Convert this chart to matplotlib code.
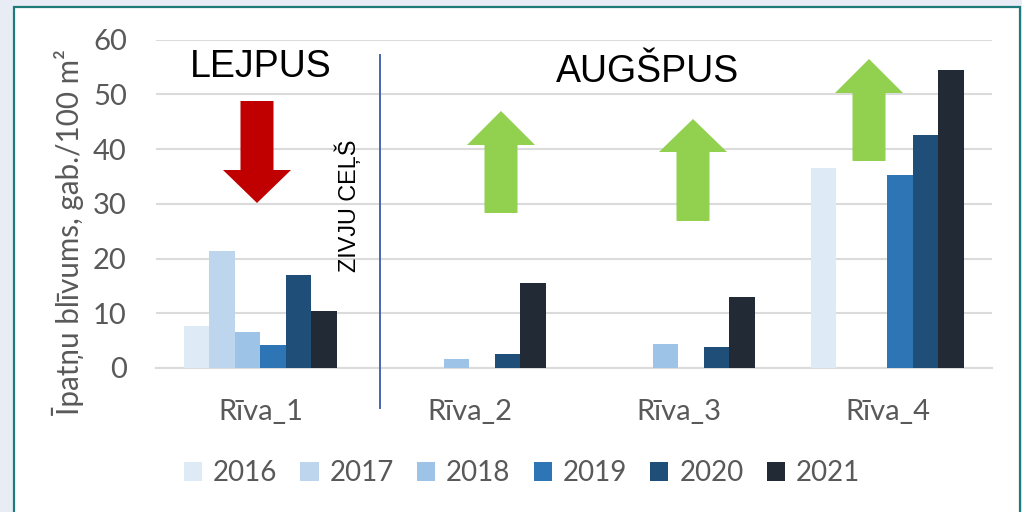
import matplotlib
matplotlib.use("Agg")
import matplotlib.pyplot as plt
import numpy as np
from matplotlib.patches import Polygon, Rectangle

W, H = 1022, 512

groups = ['Rīva_1', 'Rīva_2', 'Rīva_3', 'Rīva_4']
years = ['2016', '2017', '2018', '2019', '2020', '2021']
v2016 = [7.7, 0, 0, 36.5]
v2017 = [21.3, 0, 0, 0]
v2018 = [6.6, 1.7, 4.3, 0]
v2019 = [4.2, 0, 0, 35.2]
v2020 = [17.0, 2.5, 3.8, 42.5]
v2021 = [10.5, 15.5, 13.0, 54.5]
colors = ['#DEEAF6', '#BDD6EE', '#9DC3E6', '#2E75B6', '#1F4E79', '#222A35']

plt.rcParams['font.family'] = 'Lato'
grey = '#595959'

fig = plt.figure(figsize=(W / 100, H / 100), dpi=100, facecolor='#E8EDF5')


# pixel position in the picture -> figure fraction
def px(x, y):
    return x / W, 1 - y / H


fig.add_artist(Rectangle(px(13.5, 530), (1020 - 13.5) / W, (530 - 6.5) / H, transform=fig.transFigure,
                         facecolor='white', edgecolor='#1F7A7A', linewidth=1.6, zorder=-5))

ax = fig.add_axes([156 / W, 1 - 368 / H, (992 - 156) / W, (368 - 39.5) / H])
ax.patch.set_alpha(0)

x = np.arange(len(groups))
w = 0.122
series = [v2016, v2017, v2018, v2019, v2020, v2021]
for i in range(6):
    ax.bar(x + (i - 2.5) * w - 0.002, series[i], w, color=colors[i], label=years[i], zorder=3)

ax.set_xlim(-0.5, 3.5)
ax.set_ylim(0, 60)
ax.set_yticks(range(0, 61, 10))
ax.set_xticks(x)
ax.set_xticklabels(groups)
ax.grid(axis='y', color='#DBDBDB', linewidth=1.5, zorder=0)
ax.set_axisbelow(True)
for s in ax.spines.values():
    s.set_visible(False)
ax.axhline(0, color='#DBDBDB', linewidth=1.5, zorder=2, clip_on=False)
ax.tick_params(axis='y', length=0, labelsize=21, labelcolor=grey, pad=21)
ax.tick_params(axis='x', length=0, labelsize=21, labelcolor=grey, pad=22)

fig.text(68 / W, 1 - 232 / H, 'Īpatņu blīvums, gab./100 m²', rotation=90, fontsize=21.3,
         color=grey, ha='center', va='center')

ax.legend(loc='center', bbox_to_anchor=((522 - 156) / 836, 1 - (473 - 39.5) / 328.5),
          ncol=6, frameon=False, fontsize=20, labelcolor=grey, handlelength=0.65, handleheight=0.65,
          handletextpad=0.4, columnspacing=0.83, borderpad=0)


# block arrows, positions taken in pixels from the picture
def arrow(cx, tip, base, end, half_head, half_shaft, color):
    pts = [(cx, tip), (cx + half_head, base), (cx + half_shaft, base), (cx + half_shaft, end),
           (cx - half_shaft, end), (cx - half_shaft, base), (cx - half_head, base)]
    fig.add_artist(Polygon([px(*p) for p in pts], closed=True, transform=fig.transFigure,
                           facecolor=color, edgecolor='none', zorder=5))


arrow(257, 203, 170, 101, 34, 16.5, '#C00000')
arrow(501, 111, 145, 213, 34, 16.5, '#92D050')
arrow(693, 119, 152, 221, 34, 16.5, '#92D050')
arrow(869, 59, 93, 161, 34, 16.5, '#92D050')

fig.add_artist(plt.Line2D([380 / W, 380 / W], [1 - 55 / H, 1 - 408 / H], color='#4A66AC', linewidth=1.4,
                          transform=fig.transFigure, zorder=5))

sans = 'Liberation Sans'
fig.text(261 / W, 1 - 67 / H, 'LEJPUS', family=sans, fontsize=27, color='black', ha='center', va='center', zorder=6)
fig.text(648 / W, 1 - 72 / H, 'AUGŠPUS', family=sans, fontsize=27, color='black', ha='center', va='center', zorder=6)
fig.text(348 / W, 1 - 206 / H, 'ZIVJU CEĻŠ', family=sans, fontsize=16.8, color='black', rotation=90,
         ha='center', va='center', zorder=6)

fig.savefig('out.png', dpi=100, facecolor=fig.get_facecolor())
